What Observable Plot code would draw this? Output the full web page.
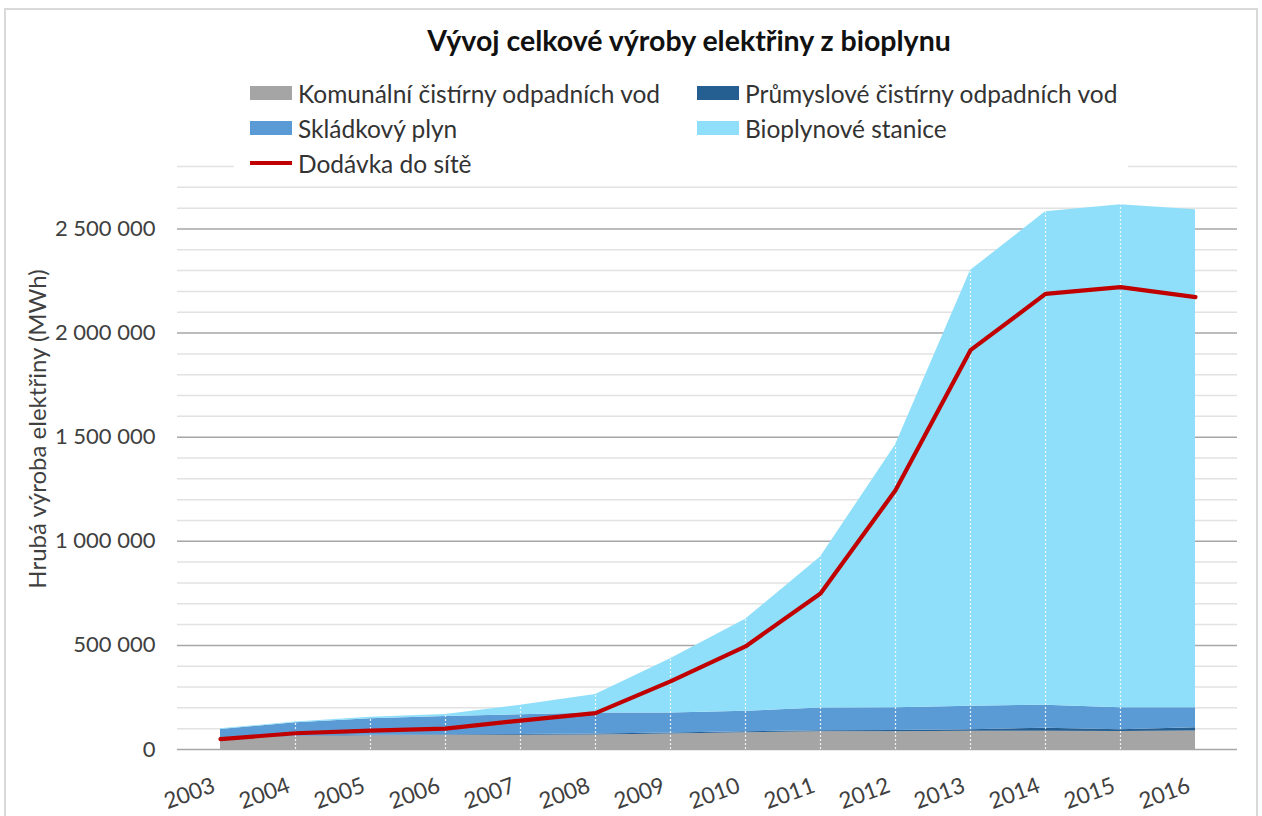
<!DOCTYPE html>
<html><head><meta charset="utf-8">
<script src="https://cdn.jsdelivr.net/npm/d3@7"></script>
<script src="https://cdn.jsdelivr.net/npm/@observablehq/plot@0.6"></script>
<style>
body{margin:0;background:#fff;font-family:Lato, sans-serif;width:1262px;height:816px;overflow:hidden;position:relative;}
#frame{position:absolute;left:4px;top:8px;width:1254px;height:830px;border:2px solid #d9d9d9;box-sizing:border-box;}
#title{position:absolute;left:0;width:1378px;top:23px;text-align:center;font-weight:bold;font-size:28.5px;color:#111;white-space:nowrap;}
#legend{position:absolute;left:234px;top:74px;width:894px;height:106px;background:#fff;z-index:2;}
.item{position:absolute;display:flex;align-items:center;font-size:24.5px;color:#333;white-space:nowrap;height:28px;}
.sw{width:42px;height:14px;margin-right:6px;}
.ln{width:42px;height:4px;margin-right:6px;}
#ylabel{position:absolute;left:36px;top:429px;transform:translate(-50%,-50%) rotate(-90deg);white-space:nowrap;font-size:24px;color:#404040;z-index:2;}
#chart{position:absolute;left:0;top:140px;}
</style>
</head><body>
<div id="frame"></div>
<div id="chart"></div>
<div id="title">Vývoj celkové výroby elektřiny z bioplynu</div>
<div id="legend"></div>
<div id="ylabel">Hrubá výroba elektřiny (MWh)</div>
<script>
const years = ["2003","2004","2005","2006","2007","2008","2009","2010","2011","2012","2013","2014","2015","2016"];
const seriesNames = ["Komunální čistírny odpadních vod","Průmyslové čistírny odpadních vod","Skládkový plyn","Bioplynové stanice"];
const seriesColors = ["#a5a5a5","#255e91","#5b9bd5","#8fdffa"];
const komunalni = [50000,63000,66000,68000,69000,70000,75000,80000,85000,85000,88000,88000,86000,89000];
const prumyslove = [2000,2000,2000,3000,3000,4000,4000,5000,5000,6000,7000,14000,9000,15000];
const skladkovy = [44000,63000,80000,88000,95000,101000,96000,99000,109000,109000,113000,111000,105000,96000];
const bioplynove = [4000,4000,7000,9000,45000,89000,261000,441000,726000,1262000,2092000,2370000,2416000,2392000];
const lineName = "Dodávka do sítě";
const lineColor = "#c00000";
const dodavka = [50000,78000,91000,100000,139000,175000,327000,495000,749000,1245000,1918000,2188000,2221000,2173000];
const yTicks = [0,500000,1000000,1500000,2000000,2500000];

const seriesValues = [komunalni, prumyslove, skladkovy, bioplynove];
const rows = seriesNames.flatMap((name, s) => years.map((year, i) => ({year, series: name, value: seriesValues[s][i]})));
const totals = years.map((year, i) => ({year, total: seriesValues.reduce((a, v) => a + v[i], 0)}));
const lineData = years.map((year, i) => ({year, value: dodavka[i]}));
const minor = d3.range(0, 2800001, 100000).filter(v => v % 500000 !== 0);
const major = d3.range(0, 2800001, 500000);

// legend
const legend = document.getElementById("legend");
const pos = [[250,79],[697,79],[250,114],[697,114]];
seriesNames.forEach((n, i) => {
  const d = document.createElement("div");
  d.className = "item";
  d.style.left = (pos[i][0]-234) + "px"; d.style.top = (pos[i][1]-74) + "px";
  d.innerHTML = `<span class="sw" style="background:${seriesColors[i]}"></span><span>${n}</span>`;
  legend.appendChild(d);
});
{
  const d = document.createElement("div");
  d.className = "item";
  d.style.left = (250-234) + "px"; d.style.top = (149-74) + "px";
  d.innerHTML = `<span class="ln" style="background:${lineColor}"></span><span>${lineName}</span>`;
  legend.appendChild(d);
}

const chart = Plot.plot({
  width: 1262, height: 676,
  marginLeft: 177, marginRight: 25, marginTop: 26, marginBottom: 67,
  style: {fontFamily: "Lato, sans-serif", fontSize: "22px", color: "#404040", background: "transparent"},
  x: {type: "point", domain: years, padding: 0.5},
  y: {domain: [0, 2800000]},
  color: {domain: seriesNames, range: seriesColors},
  marks: [
    Plot.ruleY(minor, {stroke: "#e2e2e2", strokeWidth: 1.5}),
    Plot.ruleY(major, {stroke: "#a6a6a6", strokeWidth: 1.5}),
    Plot.areaY(rows, {x: "year", y: "value", z: "series", fill: "series"}),
    Plot.ruleX(totals.slice(1, -1), {x: "year", y1: 0, y2: "total", stroke: "white", strokeDasharray: "2,2", strokeWidth: 1.2, strokeOpacity: 0.85}),
    Plot.lineY(lineData, {x: "year", y: "value", stroke: lineColor, strokeWidth: 4.2}),
    Plot.axisY(yTicks, {tickSize: 0, tickPadding: 22, label: null, fontSize: 22,
      tickFormat: d => d3.format(",")(d).replace(/,/g, " ")}),
    Plot.axisX({tickSize: 0, tickPadding: 42, tickRotate: -20, textAnchor: "end", lineAnchor: "bottom", dx: -4, label: null, fontSize: 22.5})
  ]
});
document.getElementById("chart").appendChild(chart);
</script>
</body></html>
